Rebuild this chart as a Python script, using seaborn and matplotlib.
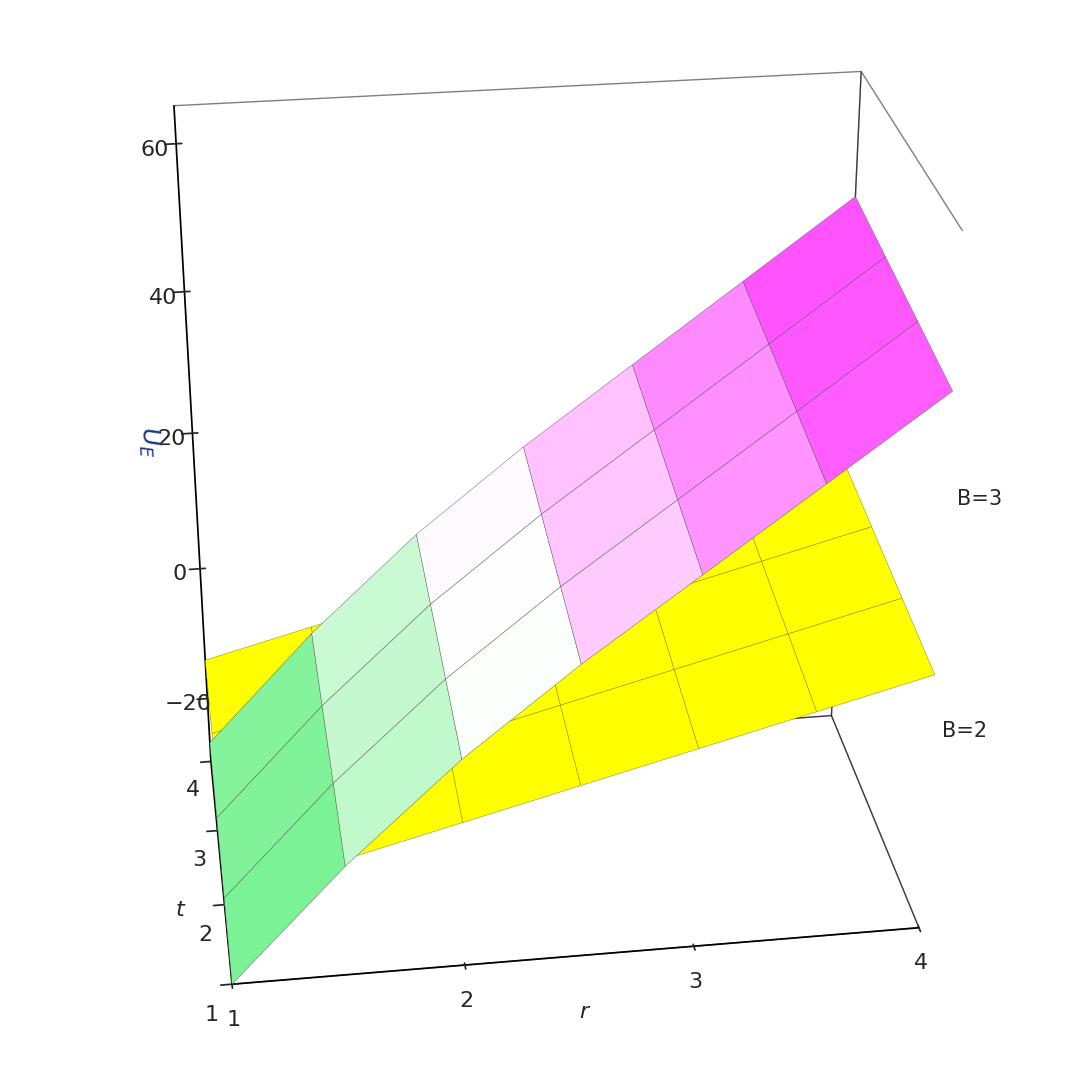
import numpy as np
import matplotlib
matplotlib.use("Agg")
import matplotlib.pyplot as plt
import seaborn as sns
from matplotlib.colors import LinearSegmentedColormap

sns.set_theme(style="white")

r_vals = [1.0, 1.5, 2.0, 2.5, 3.0, 3.5, 4.0]
t_vals = [1.0, 2.0, 3.0, 4.0]
# U_E rows per t, columns per r
u_b3 = [
    [-30, -14, 0, 12, 23, 34, 45],
    [-29, -13, 1, 13, 24, 35, 46],
    [-28, -12, 2, 14, 25, 36, 47],
    [-27, -11, 3, 15, 26, 37, 48],
]
u_b2 = [
    [-17, -13, -9, -5, -1, 3, 7],
    [-16, -12, -8, -4, 0, 4, 8],
    [-15, -11, -7, -3, 1, 5, 9],
    [-14, -10, -6, -2, 2, 6, 10],
]

R, T = np.meshgrid(r_vals, t_vals)
Z3 = np.array(u_b3, float)
Z2 = np.array(u_b2, float)

fig = plt.figure(figsize=(10.74, 10.71), dpi=100)
ax = fig.add_subplot(111, projection="3d", proj_type="persp", focal_length=0.6)
ax.set_position([0.02, 0.02, 0.96, 0.96])
ax.set_box_aspect((1, 0.6, 1.1), zoom=1.05)

cmap = LinearSegmentedColormap.from_list("gwm", ["#55ee77", "#ffffff", "#ff44ff"])
ax.plot_surface(R, T, Z3, cmap=cmap, vmin=-30, vmax=45, linewidth=0.3,
                edgecolor="#555555", shade=True, antialiased=True)
ax.plot_surface(R, T, Z2, color="#ffff00", linewidth=0.3, edgecolor="#777700",
                shade=False)

ax.set_xlim(1, 4); ax.set_ylim(1, 4); ax.set_zlim(-30, 65)
ax.set_xticks([1, 2, 3, 4]); ax.set_yticks([1, 2, 3, 4])
ax.set_zticks([-20, 0, 20, 40, 60])
ax.set_xlabel("r", fontstyle="italic", fontsize=16)
ax.set_ylabel("t", fontstyle="italic", fontsize=16)
ax.set_zlabel("$U_E$", fontsize=18, color="#1a3a8a")
ax.tick_params(labelsize=16)
for a in (ax.xaxis, ax.yaxis, ax.zaxis):
    a.pane.fill = False
    a.pane.set_edgecolor("black")
    a.line.set_color("black")
ax.grid(False)
ax.view_init(elev=28, azim=-98)

ax.text(4.05, 1.0, 30, "B=3", fontsize=15)
ax.text(4.05, 1.0, -2, "B=2", fontsize=15)

fig.savefig("out.png", dpi=100)
